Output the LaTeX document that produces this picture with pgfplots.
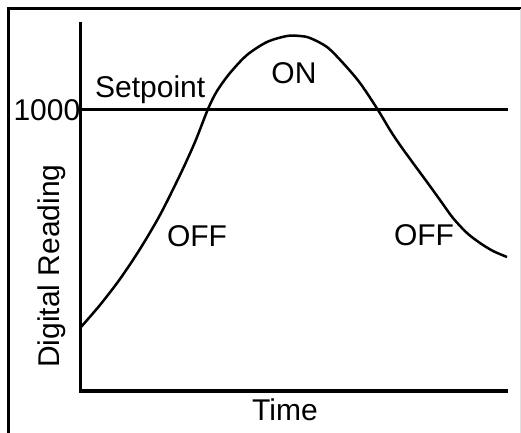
\documentclass[border=0pt]{standalone}
\usepackage{fontspec}
\setmainfont{Liberation Sans}
\usepackage{pgfplots}
\pgfplotsset{compat=1.18}

\begin{document}
\begin{tikzpicture}[font=\fontsize{30bp}{36bp}\selectfont]
  % picture is 521 x 433 bp, data origin at pixel (81,391)
  \useasboundingbox (-81bp,-42bp) rectangle (440bp,391bp);
  \draw[line width=3bp, line cap=rect] (-72.5bp,-45bp) -- (-72.5bp,382bp) -- (439bp,382bp);
  \draw[black!12, line width=0.8bp] (439bp,382bp) -- (439bp,-45bp);
  \begin{axis}[
      at={(0,0)}, anchor=origin,
      x=1bp, y=1bp,
      xmin=0, xmax=426, ymin=0, ymax=367,
      axis lines=left, axis line style={-, line width=3bp, line cap=rect},
      xtick=\empty, ytick={281}, yticklabels={1000},
      major tick length=0pt,
      yticklabel style={inner xsep=0.5bp, font=\fontsize{30bp}{36bp}\selectfont},
      /pgf/number format/assume math mode=true,
      clip=false,
    ]
    % setpoint
    \addplot[black, line width=3bp] coordinates {(0,281) (427,281)};
    % reading over time
    \addplot[black, line width=2.5bp, smooth] coordinates {
      (0,64) (19,86) (39,112) (59,142) (79,176) (99,216) (114,249)
      (127,282) (136,300) (149,318) (166,336) (186,349) (206,355)
      (219,355) (229,353) (246,344) (262,328) (279,308) (297,281)
      (309,261) (319,246) (332,228) (346,209) (359,191) (372,173)
      (386,158) (399,148) (412,140) (426,134)};
    \node[anchor=base west, inner sep=0pt] at (axis cs:14,294) {Setpoint};
    \node[anchor=base, inner sep=0pt] at (axis cs:213,308) {ON};
    \node[anchor=base, inner sep=0pt] at (axis cs:116,145) {OFF};
    \node[anchor=base, inner sep=0pt] at (axis cs:343,146) {OFF};
    \node[anchor=base, inner sep=0pt] at (axis cs:204,-29) {Time};
    \node[anchor=base, rotate=90, inner sep=0pt] at (axis cs:-21,125) {Digital Reading};
  \end{axis}
\end{tikzpicture}
\end{document}
